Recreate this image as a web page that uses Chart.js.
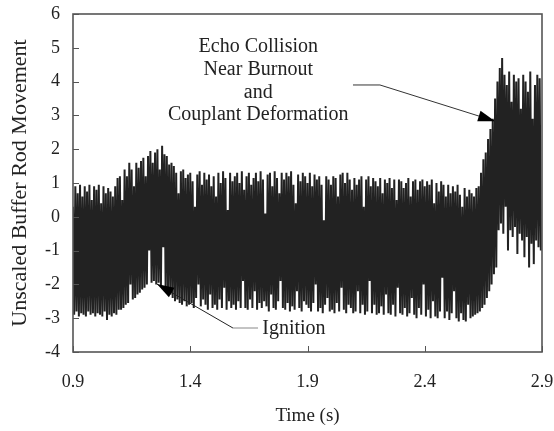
<!DOCTYPE html>
<html>
<head>
<meta charset="utf-8">
<script src="https://cdn.jsdelivr.net/npm/chart.js@4/dist/chart.umd.min.js"></script>
<style>
  html, body { margin: 0; padding: 0; background: #fff; }
  #wrap { width: 554px; height: 431px; position: relative; }
</style>
</head>
<body>
<div id="wrap"><canvas id="c" width="554" height="431"></canvas></div>
<script>
const timeStart = 0.9;      // s, first sample
const timeStep = 0.005;     // s, sample spacing
// Upper swings (samples at 0.90, 0.91, ... 2.89 s)
const peaks = [
  0.3, 0.9, 0.7, 0.95, 0.6, 0.9, 0.75, 0.95, 0.5, 0.9,
  0.8, 0.95, 0.4, 0.9, 0.7, 0.85, 0.75, 0.6, 0.9, 1.15,
  1.2, 0.5, 1.4, 1.2, 1.6, 1.4, 0.9, 1.6, 1.45, 1.65,
  1.75, 1.2, 1.8, 1.95, 1.6, 1.9, 2.0, 1.4, 2.1, 1.85,
  1.8, 1.55, 1.6, 1.5, 1.3, 0.7, 1.35, 1.4, 1.15, 1.25,
  1.3, 1.05, 0.3, 1.25, 1.35, 0.95, 1.3, 1.1, 1.25, 0.9,
  1.2, 0.6, 1.3, 1.0, 1.35, 1.15, 0.2, 1.3, 1.05, 1.2,
  1.3, 1.0, 1.35, 0.8, 1.2, 1.3, 0.95, 1.15, 1.3, 1.05,
  1.35, 1.1, 0.1, 1.25, 1.3, 0.9, 1.35, 1.15, 0.7, 1.3,
  1.1, 1.3, 1.2, 1.35, 0.95, 0.4, 1.25, 1.05, 1.3, 1.2,
  1.0, 1.3, 0.9, 1.25, 1.1, 1.2, 0.95, -0.1, 1.2, 1.1,
  0.95, 1.2, 1.15, 0.6, 1.25, 1.3, 1.0, 1.3, 1.1, 0.8,
  1.15, 0.95, 1.1, 1.2, 0.3, 1.1, 1.2, 0.9, 1.15, 1.05,
  0.9, 1.15, 0.7, 1.1, 1.0, 1.15, 0.85, 1.1, 0.5, 1.1,
  1.05, 0.85, 1.0, 1.15, 0.6, 1.05, 1.1, 0.8, 1.05, 1.1,
  0.9, 1.05, 0.95, 1.1, 0.4, 1.0, 0.75, 1.05, 0.95, 0.6,
  0.95, 0.7, 0.9, 0.75, 0.95, 0.65, 0.3, 0.85, 0.6, 0.8,
  0.7, 0.6, 0.85, 0.9, 1.3, 1.7, 1.9, 2.3, 2.6, 2.9,
  3.5, 4.0, 4.4, 4.7, 4.2, 3.9, 4.3, 3.4, 4.2, 4.0,
  4.1, 3.2, 4.2, 4.0, 3.7, 4.3, 2.9, 3.9, 4.2, 4.1
];
// Lower swings (samples at 0.905, 0.915, ... 2.895 s)
const troughs = [
  -2.9, -2.8, -2.95, -2.85, -2.9, -2.95, -2.8, -2.9, -2.85, -2.95,
  -2.85, -2.9, -2.95, -2.8, -3.05, -2.9, -2.95, -2.85, -2.9, -2.75,
  -2.75, -2.7, -2.6, -2.55, -2.0, -2.45, -2.4, -2.3, -2.25, -2.15,
  -2.1, -2.0, -1.0, -1.95, -1.9, -2.0, -1.95, -2.05, -0.9, -2.15,
  -2.25, -2.3, -2.4, -2.5, -2.45, -2.55, -2.6, -2.5, -2.65, -2.6,
  -2.55, -2.7, -2.4, -2.0, -2.65, -2.45, -2.6, -2.75, -2.3, -2.7,
  -2.6, -2.75, -2.45, -2.7, -2.1, -2.75, -2.5, -2.7, -2.6, -2.75,
  -2.5, -2.7, -1.9, -2.7, -2.75, -2.45, -2.7, -2.2, -2.75, -2.55,
  -2.7, -2.5, -2.65, -2.8, -2.3, -2.7, -2.75, -2.5, -1.9, -2.7,
  -2.75, -2.55, -2.8, -2.65, -2.75, -2.2, -2.7, -2.8, -2.5, -2.6,
  -2.7, -2.8, -2.55, -2.0, -2.8, -2.7, -2.85, -2.6, -2.4, -2.8,
  -2.75, -2.85, -2.55, -2.8, -2.1, -2.75, -2.85, -2.6, -2.7, -2.85,
  -2.8, -2.2, -2.85, -2.6, -2.9, -2.8, -1.9, -2.85, -2.6, -2.9,
  -2.85, -2.65, -2.9, -2.3, -2.85, -2.9, -2.6, -2.95, -2.1, -2.85,
  -2.9, -2.7, -2.95, -2.85, -2.4, -2.9, -3.0, -2.7, -2.9, -2.0,
  -2.95, -2.75, -3.0, -2.5, -2.95, -3.0, -2.8, -1.8, -3.0, -2.8,
  -3.05, -2.85, -2.2, -3.0, -3.1, -2.85, -3.05, -3.1, -2.6, -3.0,
  -2.95, -2.9, -2.85, -2.8, -2.7, -2.6, -2.4, -2.2, -2.0, -1.7,
  -1.5, -0.4, -0.2, -0.5, 0.3, -1.0, -0.4, -0.6, -0.3, -1.1,
  -0.5, -0.7, -1.2, -0.6, -1.5, -0.8, -1.4, -0.7, -0.9, -1.0
];
const xTicks = [0.9, 1.4, 1.9, 2.4, 2.9];
const yTicks = [-4, -3, -2, -1, 0, 1, 2, 3, 4, 5, 6];
const xTitle = 'Time (s)';
const yTitle = 'Unscaled Buffer Rod Movement';
const echoText = ['Echo Collision', 'Near Burnout', 'and', 'Couplant Deformation'];
const ignitionText = 'Ignition';

// ---- Build the point table from the arrays ----
const points = [];
for (let k = 0; k < peaks.length; k++) {
  points.push({ x: +(timeStart + timeStep * (2 * k)).toFixed(3), y: peaks[k] });
  points.push({ x: +(timeStart + timeStep * (2 * k + 1)).toFixed(3), y: troughs[k] });
}

// ---- Annotation placement (in data units) ----
const annot = {
  echo: { x: 1.69, ys: [5.03, 4.34, 3.67, 3.01],
          path: [[2.094, 3.9], [2.209, 3.9], [2.70, 2.83]] },
  ignition: { x: 1.842, y: -3.31,
              hline: [[1.689, -3.29], [1.582, -3.29]],
              path: [[1.582, -3.29], [1.258, -1.99]] }
};

const SERIF = '"Liberation Serif", "DejaVu Serif", serif';
const INK = '#222';

function arrowHead(ctx, x0, y0, x1, y1, len, half) {
  const a = Math.atan2(y1 - y0, x1 - x0);
  ctx.beginPath();
  ctx.moveTo(x1, y1);
  ctx.lineTo(x1 - len * Math.cos(a) + half * Math.sin(a), y1 - len * Math.sin(a) - half * Math.cos(a));
  ctx.lineTo(x1 - len * Math.cos(a) - half * Math.sin(a), y1 - len * Math.sin(a) + half * Math.cos(a));
  ctx.closePath();
  ctx.fill();
}

const frame = {
  id: 'frame',
  afterDatasetsDraw(chart) {
    const { ctx, chartArea: ca, scales: { x, y } } = chart;
    ctx.save();
    // inner ticks
    ctx.strokeStyle = '#555';
    ctx.lineWidth = 1;
    ctx.beginPath();
    yTicks.forEach(v => {
      const py = Math.round(y.getPixelForValue(v)) + 0.5;
      ctx.moveTo(ca.left, py); ctx.lineTo(ca.left + 6, py);
    });
    xTicks.forEach(v => {
      const px = Math.round(x.getPixelForValue(v)) + 0.5;
      ctx.moveTo(px, ca.bottom); ctx.lineTo(px, ca.bottom - 6);
    });
    ctx.stroke();
    // box
    ctx.strokeStyle = '#555';
    ctx.lineWidth = 1.6;
    ctx.strokeRect(ca.left, ca.top, ca.right - ca.left, ca.bottom - ca.top);

    // Echo annotation
    ctx.fillStyle = INK;
    ctx.font = '20px ' + SERIF;
    ctx.textAlign = 'center';
    ctx.textBaseline = 'middle';
    const ex = x.getPixelForValue(annot.echo.x);
    echoText.forEach((t, i) => ctx.fillText(t, ex, y.getPixelForValue(annot.echo.ys[i])));
    const ep = annot.echo.path.map(p => [x.getPixelForValue(p[0]), y.getPixelForValue(p[1])]);
    ctx.strokeStyle = '#333';
    ctx.lineWidth = 1;
    ctx.beginPath();
    ctx.moveTo(ep[0][0], ep[0][1]);
    for (let i = 1; i < ep.length; i++) ctx.lineTo(ep[i][0], ep[i][1]);
    ctx.stroke();
    ctx.fillStyle = '#000';
    arrowHead(ctx, ep[1][0], ep[1][1], ep[2][0], ep[2][1], 17, 5.5);

    // Ignition annotation
    ctx.fillStyle = INK;
    ctx.fillText(ignitionText, x.getPixelForValue(annot.ignition.x) , y.getPixelForValue(annot.ignition.y));
    const hl = annot.ignition.hline.map(p => [x.getPixelForValue(p[0]), y.getPixelForValue(p[1])]);
    ctx.strokeStyle = '#888';
    ctx.beginPath(); ctx.moveTo(hl[0][0], hl[0][1]); ctx.lineTo(hl[1][0], hl[1][1]); ctx.stroke();
    const ip = annot.ignition.path.map(p => [x.getPixelForValue(p[0]), y.getPixelForValue(p[1])]);
    ctx.strokeStyle = '#222';
    ctx.beginPath(); ctx.moveTo(ip[0][0], ip[0][1]); ctx.lineTo(ip[1][0], ip[1][1]); ctx.stroke();
    ctx.fillStyle = '#000';
    arrowHead(ctx, ip[0][0], ip[0][1], ip[1][0], ip[1][1], 17, 5.5);
    ctx.restore();
  }
};

new Chart(document.getElementById('c'), {
  type: 'line',
  data: {
    datasets: [{
      data: points,
      borderColor: INK,
      borderWidth: 2,
      pointRadius: 0,
      tension: 0,
      fill: false
    }]
  },
  options: {
    responsive: false,
    animation: false,
    events: [],
    layout: { padding: { left: 0, right: 12, top: 14, bottom: 0 } },
    plugins: { legend: { display: false }, tooltip: { enabled: false } },
    scales: {
      x: {
        type: 'linear',
        min: 0.9, max: 2.9,
        border: { display: false },
        grid: { display: false, drawTicks: false },
        afterBuildTicks: s => { s.ticks = xTicks.map(v => ({ value: v })); },
        afterFit: s => { s.height = 79; s.paddingLeft = 0; s.paddingRight = 0; },
        ticks: {
          padding: 19,
          color: INK,
          font: { family: SERIF, size: 18 },
          callback: v => Number(v).toFixed(1)
        },
        title: { display: true, text: xTitle, color: INK,
                 font: { family: SERIF, size: 19 }, padding: { top: 0, bottom: 4 } }
      },
      y: {
        min: -4, max: 6,
        border: { display: false },
        grid: { display: false, drawTicks: false },
        afterBuildTicks: s => { s.ticks = yTicks.map(v => ({ value: v })); },
        afterFit: s => { s.width = 73; s.paddingTop = 0; s.paddingBottom = 0; },
        ticks: {
          padding: 13,
          color: INK,
          font: { family: SERIF, size: 18 },
          callback: v => String(v)
        },
        title: { display: true, text: yTitle, color: INK,
                 font: { family: SERIF, size: 22 }, padding: { top: 7, bottom: 0 } }
      }
    }
  },
  plugins: [frame]
});
</script>
</body>
</html>
